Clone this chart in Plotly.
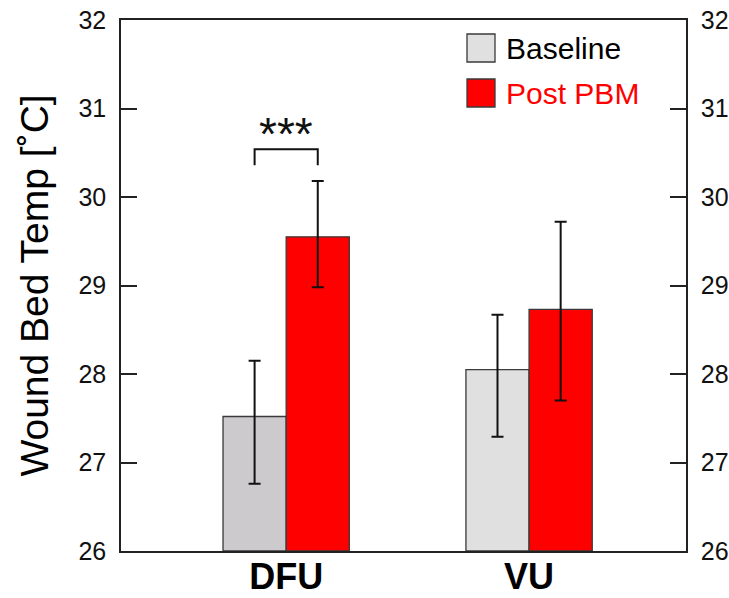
import plotly.graph_objects as go

categories = ["DFU", "VU"]
series_names = ["Baseline", "Post PBM"]
baseline = [27.52, 28.05]
baseline_err_plus = [0.63, 0.62]
baseline_err_minus = [0.76, 0.76]
post = [29.55, 28.73]
post_err_plus = [0.63, 0.99]
post_err_minus = [0.57, 1.03]
y_ticks = [26, 27, 28, 29, 30, 31, 32]
sig_label = "***"

baseline_colors = ["#cccacc", "#e0e0e0"]
post_color = "#ff0000"
xpos = list(range(len(categories)))
FONT = "Liberation Sans, Arial, sans-serif"

PL, PR, PT, PB = 121, 686, 20, 551  # plot area in page pixels
PW, PH = PR - PL, PB - PT

fig = go.Figure()
fig.add_trace(go.Bar(
    x=xpos, y=[v - 26 for v in baseline], base=26, name=series_names[0],
    marker=dict(color=baseline_colors, line=dict(color="#3a3a3a", width=1.3)),
    error_y=dict(type="data", array=baseline_err_plus, arrayminus=baseline_err_minus,
                 symmetric=False, color="#111111", thickness=2, width=6),
    showlegend=False,
))
fig.add_trace(go.Bar(
    x=xpos, y=[v - 26 for v in post], base=26, name=series_names[1],
    marker=dict(color=post_color, line=dict(color="#3a3a3a", width=1.3)),
    error_y=dict(type="data", array=post_err_plus, arrayminus=post_err_minus,
                 symmetric=False, color="#111111", thickness=2, width=6),
    showlegend=False,
))
fig.add_trace(go.Scatter(x=[0], y=[26], yaxis="y2", mode="markers",
                         marker=dict(opacity=0), showlegend=False, hoverinfo="skip"))

# significance bracket between DFU bars
xl, xr = -0.13, 0.13
fig.add_shape(type="path", xref="x", yref="y",
              path=f"M {xl},30.36 L {xl},30.54 L {xr},30.54 L {xr},30.36",
              line=dict(color="#111111", width=2))
fig.add_annotation(x=0, y=30.39, xref="x", yref="y", yanchor="bottom", text=sig_label,
                   showarrow=False, font=dict(family=FONT, size=46, color="#111111"))

# legend drawn manually (large swatches)
leg_colors = ["#e0e0e0", post_color]
leg_text_colors = ["#000000", "#ff0000"]
leg_y = [48, 93]
for name, c, tc, yy in zip(series_names, leg_colors, leg_text_colors, leg_y):
    y0 = 1 - (yy - 14 - PT) / PH
    y1 = 1 - (yy + 14 - PT) / PH
    x0 = (467 - PL) / PW
    x1 = (495 - PL) / PW
    fig.add_shape(type="rect", xref="paper", yref="paper", x0=x0, x1=x1, y0=y1, y1=y0,
                  fillcolor=c, line=dict(color="#3a3a3a", width=1.3))
    fig.add_annotation(xref="paper", yref="paper", x=(504 - PL) / PW, y=1 - (yy - PT) / PH,
                       xanchor="left", yanchor="middle", text=name, showarrow=False,
                       font=dict(family=FONT, size=30, color=tc))

axis_line = dict(showline=True, linecolor="#222222", linewidth=1.5)
fig.update_layout(
    width=729, height=598,
    margin=dict(l=PL, r=729 - PR, t=PT, b=598 - PB),
    plot_bgcolor="white", paper_bgcolor="white",
    barmode="group", bargap=0.48, bargroupgap=0,
    font=dict(family=FONT, color="#111111"),
    xaxis=dict(range=[-0.68, 1.646], tickvals=xpos, ticktext=categories,
               tickfont=dict(family=FONT, size=36, weight="bold", color="#000000"),
               ticks="", showgrid=False, zeroline=False, mirror=True, automargin=False,
               ticklabelstandoff=-7, ticklabeloverflow="allow", **axis_line),
    yaxis=dict(range=[26, 32], tickvals=y_ticks, ticks="inside", ticklen=16, tickwidth=1.5,
               tickcolor="#222222", tickfont=dict(size=25, color="#111111"),
               showgrid=False, zeroline=False, mirror=True, ticklabelstandoff=8,
               automargin=False, ticklabeloverflow="allow",
               title=dict(text="Wound Bed Temp [˚C]", font=dict(size=39, color="#000000"),
                          standoff=18),
               **axis_line),
    yaxis2=dict(range=[26, 32], tickvals=y_ticks, overlaying="y", side="right",
                ticks="inside", ticklen=16, tickwidth=1.5, tickcolor="#222222",
                tickfont=dict(size=25, color="#111111"), showgrid=False, zeroline=False,
                ticklabelstandoff=8, automargin=False, ticklabeloverflow="allow",
                **axis_line),
)

fig.write_html("out.html", config={"displayModeBar": False},
               post_script="document.body.style.margin='0';document.body.style.overflow='hidden';")
